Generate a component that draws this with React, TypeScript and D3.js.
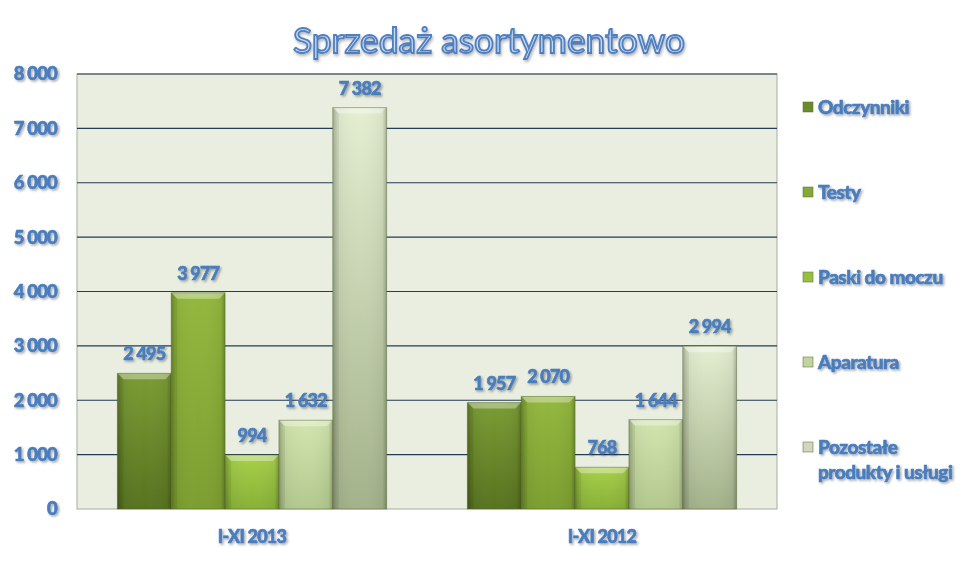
import React from "react";
import * as d3 from "d3";

const categories = ["I-XI 2013", "I-XI 2012"];
const seriesNames = ["Odczynniki", "Testy", "Paski do moczu", "Aparatura", "Pozostałe produkty i usługi"];
const legendLines = [["Odczynniki"], ["Testy"], ["Paski do moczu"], ["Aparatura"], ["Pozostałe", "produkty i usługi"]];
const values2013 = [2495, 3977, 994, 1632, 7382];
const values2012 = [1957, 2070, 768, 1644, 2994];
const yTicks = [0, 1000, 2000, 3000, 4000, 5000, 6000, 7000, 8000];
const title = "Sprzedaż asortymentowo";

const colorsTop = ["#7b9c34", "#93b83e", "#a7d04a", "#d2e5ae", "#e4eed1"];
const colorsBottom = ["#57731f", "#7c9e30", "#88b136", "#b3c88e", "#a3b28a"];
const legendColors = ["#6b8b2b", "#86a936", "#98c040", "#c2d59c", "#cfd8bf"];

const W = 980, H = 561;
const M = { left: 77, right: 777, top: 74, bottom: 509 };
const fmt = (v: number) => d3.format(",")(v).replace(/,/g, " ");
const BLUE = "#4a7dbd";
const FONT = "Lato, 'Open Sans', sans-serif";
const heavy = { fontFamily: FONT, fontWeight: 900, fill: BLUE, stroke: BLUE, strokeWidth: 0.6, filter: "url(#ts)" } as const;

export default function App() {
  const data = [values2013, values2012];
  const x0 = d3.scaleBand<string>().domain(categories).range([M.left, M.right]).paddingInner(0).paddingOuter(0);
  const bw = x0.bandwidth();
  const barW = bw / 6.5;
  const x1 = d3.scaleBand<number>().domain(d3.range(seriesNames.length)).range([0, barW * 5]);
  const y = d3.scaleLinear().domain([0, 8000]).range([M.bottom, M.top]);

  return (
    <div style={{ margin: -8 }}>
      <svg width={W} height={H} style={{ display: "block", background: "#ffffff" }}>
        <defs>
          {colorsTop.map((c, i) => (
            <linearGradient key={i} id={`g${i}`} x1="0" y1="0" x2="0" y2="1">
              <stop offset="0" stopColor={c} />
              <stop offset="1" stopColor={colorsBottom[i]} />
            </linearGradient>
          ))}
          <linearGradient id="side" x1="0" y1="0" x2="1" y2="0">
            <stop offset="0" stopColor="#000" stopOpacity="0.22" />
            <stop offset="0.08" stopColor="#000" stopOpacity="0.05" />
            <stop offset="0.5" stopColor="#fff" stopOpacity="0.0" />
            <stop offset="0.92" stopColor="#000" stopOpacity="0.05" />
            <stop offset="1" stopColor="#000" stopOpacity="0.25" />
          </linearGradient>
          <filter id="ts" x="-20%" y="-30%" width="140%" height="160%">
            <feDropShadow dx="1.5" dy="1.5" stdDeviation="1" floodColor="#000" floodOpacity="0.35" />
          </filter>
          <filter id="ts2" x="-20%" y="-30%" width="140%" height="160%">
            <feDropShadow dx="1" dy="2" stdDeviation="1.5" floodColor="#000" floodOpacity="0.3" />
          </filter>
        </defs>

        {/* plot area */}
        <rect x={M.left} y={M.top} width={M.right - M.left} height={M.bottom - M.top} fill="#eaeee0" stroke="#a8ad9e" strokeWidth={1} />
        {yTicks.filter((t) => t > 0).map((t) => (
          <line key={t} x1={M.left} x2={M.right} y1={y(t)} y2={y(t)} stroke="#243a55" strokeWidth={1.2} />
        ))}

        {/* bars */}
        {categories.map((cat, ci) => {
          const gx = (x0(cat) as number) + (bw - barW * 5) / 2;
          return (
            <g key={cat}>
              {data[ci].map((v, si) => {
                const bx = gx + (x1(si) as number);
                const by = y(v);
                const bh = M.bottom - by;
                const bev = 6;
                return (
                  <g key={si}>
                    <rect x={bx} y={by} width={barW} height={bh} fill={`url(#g${si})`} />
                    <rect x={bx} y={by} width={barW} height={bh} fill="url(#side)" />
                    <polygon
                      points={`${bx},${by} ${bx + barW},${by} ${bx + barW - bev},${by + bev} ${bx + bev},${by + bev}`}
                      fill="#ffffff" fillOpacity={0.35}
                    />
                    <polygon
                      points={`${bx},${by} ${bx + bev},${by + bev} ${bx + bev},${by + bh} ${bx},${by + bh}`}
                      fill="#000" fillOpacity={0.08}
                    />
                    <rect x={bx} y={by} width={barW} height={bh} fill="none" stroke="#4d5f2a" strokeOpacity={0.45} strokeWidth={1} />
                    <text x={bx + barW / 2} y={by - 13} textAnchor="middle" fontSize={18} letterSpacing={-0.8} {...heavy}>{fmt(v)}</text>
                  </g>
                );
              })}
            </g>
          );
        })}

        {/* y axis labels */}
        {yTicks.map((t) => (
          <text key={t} x={57} y={y(t)} dy="0.35em" textAnchor="end" fontSize={18.5} letterSpacing={-0.8} {...heavy}>{fmt(t)}</text>
        ))}

        {/* x axis labels */}
        {categories.map((c) => (
          <text key={c} x={(x0(c) as number) + bw / 2} y={537} dy="0.35em" textAnchor="middle" fontSize={18}
            letterSpacing={-0.8} {...heavy}>{c}</text>
        ))}

        {/* legend */}
        {legendLines.map((lines, i) => {
          const cy = 107 + i * 85;
          return (
            <g key={i}>
              <rect x={803} y={cy - 5} width={10} height={10} fill={legendColors[i]} stroke="#55652f" strokeOpacity={0.5} />
              {lines.map((ln, li) => (
                <text key={li} x={818} y={cy + li * 25} dy="0.35em" fontSize={19} letterSpacing={-0.5} {...heavy}>{ln}</text>
              ))}
            </g>
          );
        })}

        {/* title */}
        <text x={489} y={41} dy="0.35em" textAnchor="middle" fontFamily={FONT} fontSize={35} fontWeight={400}
          textLength={392} lengthAdjust="spacingAndGlyphs"
          fill="#c9dcf2" stroke="#4f7fbf" strokeWidth={1.8} filter="url(#ts2)">{title}</text>
      </svg>
    </div>
  );
}
